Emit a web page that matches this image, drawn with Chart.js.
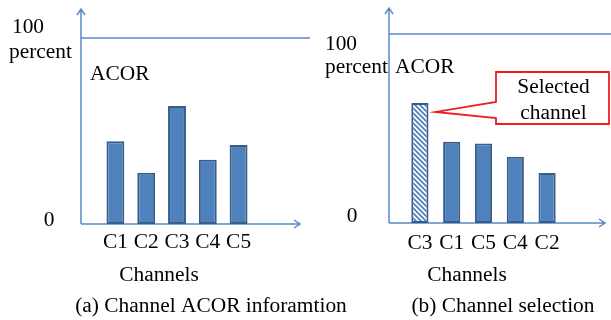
<!DOCTYPE html>
<html>
<head>
<meta charset="utf-8">
<script src="https://cdn.jsdelivr.net/npm/chart.js@4/dist/chart.umd.min.js"></script>
<style>
body { margin: 0; background: #fff; width: 611px; height: 320px; overflow: hidden; position: relative; }
canvas { position: absolute; left: 0; top: 0; }
.pemuat { font-family: "Liberation Serif"; position: absolute; left: -100px; top: -100px; }
</style>
</head>
<body>
<span class="pemuat">Aa</span>
<canvas id="grafikA" width="611" height="320"></canvas>
<canvas id="grafikB" width="611" height="320"></canvas>
<script>
// data
const kanalA = ['C1', 'C2', 'C3', 'C4', 'C5'];
const acorA = [44.5, 27.5, 63.5, 34.5, 42.5];
const kanalB = ['C3', 'C1', 'C5', 'C4', 'C2'];
const acorB = [63.5, 43, 42, 35, 26.5];
const labelY = ['100', 'percent', '0'];
const judulA = '(a) Channel ACOR inforamtion';
const judulB = '(b) Channel selection';

const biru = '#4F81BD';
const biruTua = '#385D8A';
const garis = '#5A8AC6';
const font = '20px "Liberation Serif", "DejaVu Serif", serif';

function tulis(ctx, teks, x, y, align) {
  ctx.save();
  ctx.font = font;
  ctx.fillStyle = '#000';
  ctx.textBaseline = 'alphabetic';
  ctx.textAlign = align || 'center';
  ctx.translate(x, y);
  ctx.scale(1.07, 1);
  ctx.fillText(teks, 0, 0);
  ctx.restore();
}

function buatArsir() {
  const c = document.createElement('canvas');
  c.width = 5; c.height = 5;
  const g = c.getContext('2d');
  g.fillStyle = '#fff';
  g.fillRect(0, 0, 5, 5);
  g.strokeStyle = biru;
  g.lineWidth = 1.8;
  g.beginPath();
  g.moveTo(-1, -1); g.lineTo(6, 6);
  g.moveTo(-1, 4); g.lineTo(1, 6);
  g.moveTo(4, -1); g.lineTo(6, 1);
  g.stroke();
  return g.createPattern(c, 'repeat');
}

function hiasan(p) {
  return {
    id: 'hiasan',
    beforeDatasetsDraw(chart) {
      const ctx = chart.ctx;
      const a = chart.chartArea;
      ctx.save();
      ctx.strokeStyle = garis;
      ctx.lineWidth = 1.5;
      ctx.beginPath();
      // sumbu y dengan panah
      ctx.moveTo(p.sumbuX, a.bottom);
      ctx.lineTo(p.sumbuX, p.atas);
      ctx.moveTo(p.sumbuX - 4, p.atas + 6);
      ctx.lineTo(p.sumbuX, p.atas);
      ctx.lineTo(p.sumbuX + 4, p.atas + 6);
      // sumbu x dengan panah
      ctx.moveTo(p.sumbuX, a.bottom);
      ctx.lineTo(p.ujung, a.bottom);
      ctx.moveTo(p.ujung - 6, a.bottom - 4);
      ctx.lineTo(p.ujung, a.bottom);
      ctx.lineTo(p.ujung - 6, a.bottom + 4);
      // garis 100
      ctx.moveTo(p.sumbuX, a.top);
      ctx.lineTo(p.garisKanan, a.top);
      ctx.stroke();
      ctx.restore();
    },
    afterDatasetsDraw(chart) {
      const ctx = chart.ctx;
      const skalaX = chart.scales.x;
      tulis(ctx, labelY[0], p.seratus[0], p.seratus[1]);
      tulis(ctx, labelY[1], p.persen[0], p.persen[1], 'left');
      tulis(ctx, labelY[2], p.nol[0], p.nol[1]);
      tulis(ctx, 'ACOR', p.acor[0], p.acor[1], 'left');
      chart.data.labels.forEach((lbl, i) => {
        tulis(ctx, lbl, skalaX.getPixelForValue(i), p.tickY);
      });
      tulis(ctx, 'Channels', p.channels[0], p.channels[1]);
      tulis(ctx, p.judul, p.judulPos[0], p.judulPos[1]);

      if (p.callout) {
        const bar = chart.getDatasetMeta(0).data[0];
        const tx = bar.x + bar.width / 2 + 7;
        const ty = bar.y + 9;
        const b = p.callout;
        ctx.save();
        ctx.strokeStyle = '#F01E1E';
        ctx.fillStyle = '#fff';
        ctx.lineWidth = 1.8;
        ctx.beginPath();
        ctx.moveTo(b.x1, b.y1);
        ctx.lineTo(b.x2, b.y1);
        ctx.lineTo(b.x2, b.y2);
        ctx.lineTo(b.x1, b.y2);
        ctx.lineTo(b.x1, 118);
        ctx.lineTo(tx, ty);
        ctx.lineTo(b.x1, 102);
        ctx.closePath();
        ctx.fill();
        ctx.stroke();
        ctx.restore();
        const cx = (b.x1 + b.x2) / 2 + 1;
        tulis(ctx, 'Selected', cx, 93);
        tulis(ctx, 'channel', cx, 119);
      }
    }
  };
}

function buatGrafik(id, labels, data, warna, lebarBar, padding, p) {
  return new Chart(document.getElementById(id).getContext('2d'), {
    type: 'bar',
    data: {
      labels: labels,
      datasets: [{
        data: data,
        backgroundColor: warna,
        borderColor: biruTua,
        borderWidth: 2,
        borderSkipped: false,
        barPercentage: lebarBar,
        categoryPercentage: 1
      }]
    },
    options: {
      responsive: false,
      animation: false,
      layout: { padding: padding },
      scales: {
        x: { display: false },
        y: { display: false, min: 0, max: 100 }
      },
      plugins: { legend: { display: false }, tooltip: { enabled: false } }
    },
    plugins: [hiasan(p)]
  });
}

function gambarSemua() {
  buatGrafik('grafikA', kanalA, acorA, biru, 0.58,
    { left: 100, right: 357, top: 38, bottom: 96 },
    {
      sumbuX: 81, atas: 9, ujung: 300, garisKanan: 310,
      seratus: [28, 33], persen: [9, 58], nol: [49, 226], acor: [90, 80],
      tickY: 248, channels: [159, 281], judul: judulA, judulPos: [211, 312]
    });

  buatGrafik('grafikB', kanalB, acorB, [buatArsir(), biru, biru, biru, biru], 0.54,
    { left: 404, right: 48, top: 34, bottom: 97 },
    {
      sumbuX: 389, atas: 8, ujung: 605, garisKanan: 611,
      seratus: [341, 50], persen: [325, 73], nol: [352, 222], acor: [395, 73],
      tickY: 249, channels: [467, 281], judul: judulB, judulPos: [503, 312],
      callout: { x1: 496, y1: 72, x2: 609, y2: 124 }
    });
}

document.fonts.load(font).then(gambarSemua, gambarSemua);
</script>
</body>
</html>
